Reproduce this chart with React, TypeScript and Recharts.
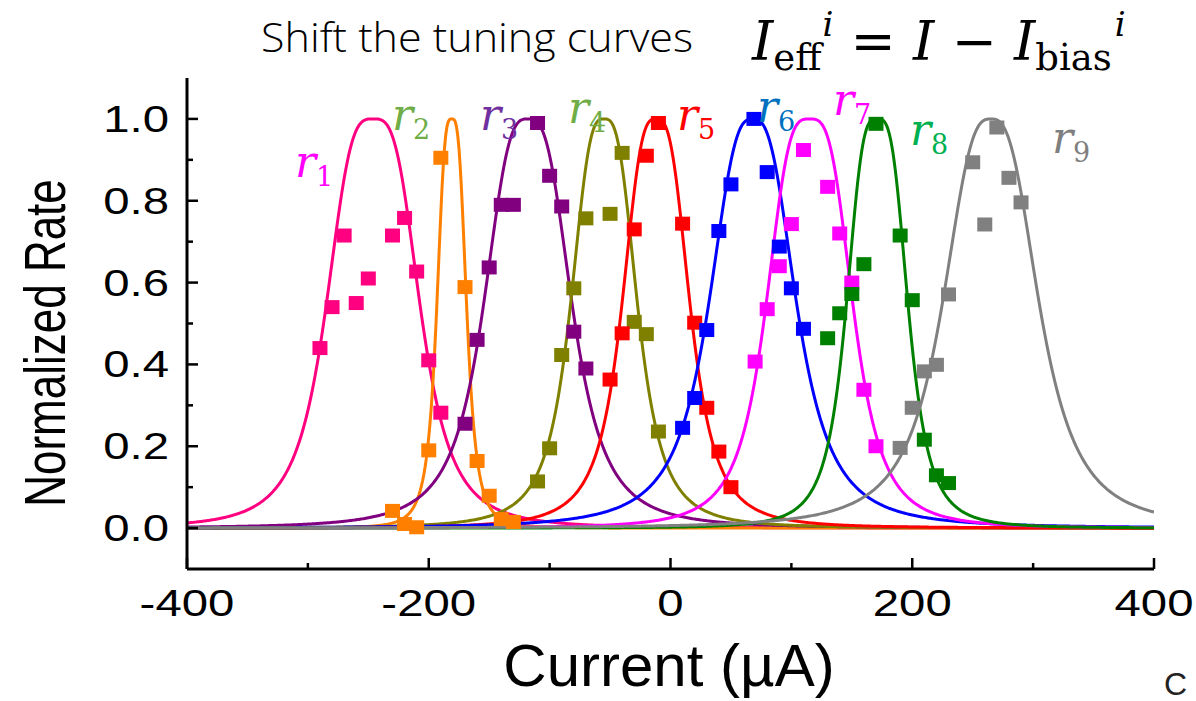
import React from 'react';
import { ComposedChart, Line, Scatter, XAxis, YAxis } from 'recharts';

// measured points: [current (µA), normalized rate]
const r1Points = [[-290, 0.44], [-280, 0.54], [-270, 0.715], [-260, 0.55], [-250, 0.61], [-230, 0.715], [-220, 0.758], [-210, 0.627], [-200, 0.41], [-190, 0.282]];
const r2Points = [[-230, 0.042], [-220, 0.01], [-210, 0.002], [-200, 0.19], [-190, 0.905], [-170, 0.589], [-160, 0.164], [-150, 0.079], [-140, 0.022], [-130, 0.015]];
const r3Points = [[-170, 0.255], [-160, 0.46], [-150, 0.637], [-140, 0.79], [-130, 0.79], [-110, 0.99], [-100, 0.861], [-90, 0.786], [-80, 0.48], [-70, 0.39]];
const r4Points = [[-110, 0.114], [-100, 0.195], [-90, 0.423], [-80, 0.586], [-70, 0.757], [-50, 0.768], [-40, 0.917], [-30, 0.504], [-20, 0.474], [-10, 0.236]];
const r5Points = [[-50, 0.363], [-40, 0.476], [-30, 0.73], [-20, 0.91], [-10, 0.99], [10, 0.744], [20, 0.502], [30, 0.294], [40, 0.187], [50, 0.1]];
const r6Points = [[10, 0.245], [20, 0.318], [30, 0.484], [40, 0.726], [50, 0.84], [69, 1.0], [80, 0.87], [90, 0.688], [100, 0.586], [110, 0.487]];
const r7Points = [[70, 0.407], [80, 0.535], [90, 0.64], [100, 0.743], [110, 0.924], [130, 0.834], [140, 0.72], [150, 0.6], [160, 0.338], [170, 0.2]];
const r8Points = [[130, 0.464], [140, 0.525], [150, 0.572], [160, 0.645], [170, 0.988], [190, 0.715], [200, 0.557], [210, 0.216], [220, 0.129], [230, 0.11]];
const r9Points = [[190, 0.196], [200, 0.294], [210, 0.383], [220, 0.399], [230, 0.571], [250, 0.894], [260, 0.742], [270, 0.979], [280, 0.856], [290, 0.796]];

// fitted tuning curves 1 / (1 + |(I - center) / width|^power), params
const fitCenter = [-246, -181, -118, -55, -12, 68, 115, 171, 265];
const fitWidth = [41, 13, 39, 29.5, 30, 39, 38, 27, 43];
const fitPower = [3.3, 3.3, 3.0, 3.0, 3.0, 2.8, 3.3, 3.3, 2.8];

const seriesColors = ['#FF0080', '#FF8000', '#800080', '#808000', '#FF0000', '#0000FF', '#FF00FF', '#008000', '#808080'];
const labelColors = ['#FF00FF', '#70AD47', '#7030A0', '#70AD47', '#FF0000', '#0070C0', '#FF00FF', '#00B050', '#7F7F7F'];
const seriesNames = ['1', '2', '3', '4', '5', '6', '7', '8', '9'];

const xTicks = [-400, -300, -200, -100, 0, 100, 200, 300, 400];
const yTicks = [0, 0.1, 0.2, 0.3, 0.4, 0.5, 0.6, 0.7, 0.8, 0.9, 1.0];

const allPoints = [r1Points, r2Points, r3Points, r4Points, r5Points, r6Points, r7Points, r8Points, r9Points];

const fitCurve = (i: number) => {
  const pts: { x: number; y: number }[] = [];
  for (let x = -400; x <= 400; x += 1) {
    const d = Math.abs((x - fitCenter[i]) / fitWidth[i]);
    pts.push({ x, y: 1 / (1 + Math.pow(d, fitPower[i])) });
  }
  return pts;
};

// label placement (px) for the r_i annotations
const labelPos = [[295, 177], [392, 130], [480, 130], [568, 123], [677, 130], [757, 122], [833, 115], [910, 145], [1052, 153]];

const SANS = 'Liberation Sans, Arial, sans-serif';
const SERIF = "'DejaVu Serif', serif";
const STRETCH = 1.28;
const MAJOR = 11;
const MINOR = 6;

const isMajorX = (v: number) => Math.round(v) % 200 === 0;
const isMajorY = (v: number) => Math.round(v * 10) % 2 === 0;

const BottomTick = ({ x, y, payload }: any) => {
  const major = isMajorX(payload.value);
  return (
    <g>
      <line x1={x} y1={y} x2={x} y2={y - (major ? MAJOR : MINOR)} stroke="#000" strokeWidth={2.5} />
      {major && (
        <text transform={`translate(${x},${y + 47}) scale(${STRETCH},1)`} textAnchor="middle" fontSize={37} fontFamily={SANS} fill="#000">
          {payload.value}
        </text>
      )}
    </g>
  );
};

const TopTick = ({ x, y, payload }: any) => {
  const major = isMajorX(payload.value);
  return <line x1={x} y1={y} x2={x} y2={y + (major ? MAJOR : MINOR)} stroke="#000" strokeWidth={2.5} />;
};

const LeftTick = ({ x, y, payload }: any) => {
  const major = isMajorY(payload.value);
  return (
    <g>
      <line x1={x} y1={y} x2={x + (major ? MAJOR : MINOR)} y2={y} stroke="#000" strokeWidth={2.5} />
      {major && (
        <text transform={`translate(${x - 18},${y + 13}) scale(${STRETCH},1)`} textAnchor="end" fontSize={37} fontFamily={SANS} fill="#000">
          {payload.value.toFixed(1)}
        </text>
      )}
    </g>
  );
};

const RightTick = ({ x, y, payload }: any) => {
  const major = isMajorY(payload.value);
  return <line x1={x} y1={y} x2={x - (major ? MAJOR : MINOR)} y2={y} stroke="#000" strokeWidth={2.5} />;
};

const squareShape = (color: string) => (props: any) => {
  const { cx, cy } = props;
  return <rect x={cx - 7.5} y={cy - 7} width={15} height={14} fill={color} />;
};

const axisLine = { stroke: '#000', strokeWidth: 3 };

export default function App() {
  return (
    <div style={{ position: 'absolute', left: 0, top: 0, width: 1196, height: 701, background: '#fff' }}>
      <ComposedChart width={1196} height={701} margin={{ top: 78, right: 42, bottom: 72, left: 127 }}>
        <XAxis
          type="number"
          dataKey="x"
          domain={[-400, 400]}
          ticks={xTicks}
          interval={0}
          height={60}
          tickSize={0}
          tickMargin={0}
          tickLine={false}
          axisLine={axisLine}
          tick={<BottomTick />}
          allowDataOverflow
        />
        <XAxis
          xAxisId="top"
          orientation="top"
          type="number"
          dataKey="x"
          domain={[-400, 400]}
          ticks={xTicks}
          interval={0}
          height={0}
          tickSize={0}
          tickMargin={0}
          tickLine={false}
          axisLine={axisLine}
          tick={<TopTick />}
          allowDataOverflow
        />
        <YAxis
          type="number"
          dataKey="y"
          domain={[-0.1, 1.1]}
          ticks={yTicks}
          interval={0}
          width={60}
          tickSize={0}
          tickMargin={0}
          tickLine={false}
          axisLine={axisLine}
          tick={<LeftTick />}
          allowDataOverflow
        />
        <YAxis
          yAxisId="right"
          orientation="right"
          type="number"
          dataKey="y"
          domain={[-0.1, 1.1]}
          ticks={yTicks}
          interval={0}
          width={0}
          tickSize={0}
          tickMargin={0}
          tickLine={false}
          axisLine={axisLine}
          tick={<RightTick />}
          allowDataOverflow
        />
        {seriesColors.map((c, i) => (
          <Line
            key={`fit-${i}`}
            data={fitCurve(i)}
            dataKey="y"
            type="linear"
            stroke={c}
            strokeWidth={3}
            dot={false}
            activeDot={false}
            isAnimationActive={false}
          />
        ))}
        {seriesColors.map((c, i) => (
          <Scatter
            key={`pts-${i}`}
            data={allPoints[i].map(([x, y]) => ({ x, y }))}
            dataKey="y"
            fill={c}
            shape={squareShape(c)}
            isAnimationActive={false}
          />
        ))}
      </ComposedChart>
      <svg width={1196} height={701} style={{ position: 'absolute', left: 0, top: 0, pointerEvents: 'none' }}>
        <text x={261} y={52} fontSize={41} fontWeight={300} fontFamily="'Open Sans', Lato, sans-serif" textLength={432} lengthAdjust="spacingAndGlyphs" fill="#000">
          Shift the tuning curves
        </text>
        <text x={752} y={60} fontSize={54} fontFamily={SERIF} fill="#000">
          <tspan fontStyle="italic">I</tspan>
          <tspan fontSize={37} dy={10}>eff</tspan>
          <tspan fontSize={34} fontStyle="italic" dx={1} dy={-34}>i</tspan>
          <tspan dx={0} dy={24}>{' = '}</tspan>
          <tspan fontStyle="italic">I</tspan>
          <tspan>{' \u2212 '}</tspan>
          <tspan fontStyle="italic">I</tspan>
          <tspan fontSize={37} dy={10}>bias</tspan>
          <tspan fontSize={34} fontStyle="italic" dx={3} dy={-34}>i</tspan>
        </text>
        <text transform={`translate(65,343) scale(1.3,1) rotate(-90)`} textAnchor="middle" fontSize={44} fontFamily={SANS} fill="#000">
          Normalized Rate
        </text>
        <text x={669} y={686} textAnchor="middle" fontSize={60} fontFamily={SANS} fill="#000">
          Current (µA)
        </text>
        <text x={1164} y={695} fontSize={32} fontFamily={SANS} fill="#222">
          C
        </text>
        {labelPos.map(([lx, ly], i) => (
          <text key={`lab-${i}`} x={lx} y={ly} fontSize={44} fontFamily={SERIF} fill={labelColors[i]}>
            <tspan fontStyle="italic">r</tspan>
            <tspan fontSize={27} dy={9}>{seriesNames[i]}</tspan>
          </text>
        ))}
      </svg>
    </div>
  );
}
